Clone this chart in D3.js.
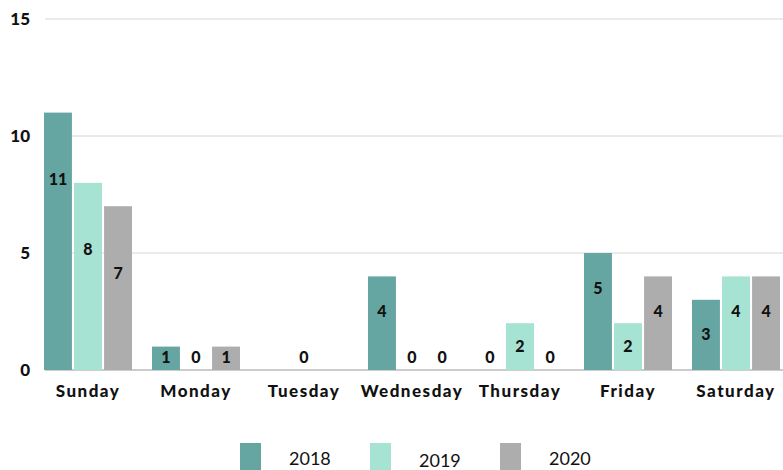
<!DOCTYPE html>
<html><head><meta charset="utf-8">
<script src="https://cdn.jsdelivr.net/npm/d3@7"></script>
<style>body{margin:0;background:#fff;}svg{display:block;}</style>
</head><body><svg id="c" width="783" height="470"></svg>
<script>
const categories = ["Sunday","Monday","Tuesday","Wednesday","Thursday","Friday","Saturday"];
const seriesNames = ["2018","2019","2020"];
const values2018 = [11,1,null,4,0,5,3];
const values2019 = [8,0,0,0,2,2,4];
const values2020 = [7,1,null,0,0,4,4];
const yTicks = [0,5,10,15];
const colors = ["#66a6a2","#a6e3d3","#adadad"];

const allSeries = [values2018, values2019, values2020];
const svg = d3.select("#c");
const font = "Lato, 'Open Sans', sans-serif";
const x = d3.scaleBand().domain(categories).range([34,790]).paddingInner(0.185).paddingOuter(0.0925);
const x1 = d3.scaleBand().domain(seriesNames).range([0,x.bandwidth()]).paddingInner(0.07);
const y = d3.scaleLinear().domain([0,15]).range([370,19]);

svg.append("g").selectAll("line").data(yTicks).join("line")
  .attr("x1",45).attr("x2",783).attr("y1",d=>y(d)).attr("y2",d=>y(d))
  .attr("stroke",d=>d===0?"#999":"#d6d6d6").attr("stroke-width",1);
svg.append("g").selectAll("text").data(yTicks).join("text")
  .attr("x",30).attr("y",d=>y(d)).attr("dy","0.35em").attr("text-anchor","end")
  .attr("font-family",font).attr("font-weight",900).attr("font-size",17).attr("fill","#111")
  .text(d=>d);

const flat = [];
allSeries.forEach((arr,si)=>arr.forEach((v,ci)=>{ if(v!==null) flat.push({s:seriesNames[si],si,c:categories[ci],v}); }));

svg.append("g").selectAll("rect").data(flat.filter(d=>d.v>0)).join("rect")
  .attr("x",d=>x(d.c)+x1(d.s)).attr("width",x1.bandwidth())
  .attr("y",d=>y(d.v)).attr("height",d=>y(0)-y(d.v)).attr("fill",d=>colors[d.si]);

svg.append("g").selectAll("text").data(flat).join("text")
  .attr("x",d=>x(d.c)+x1(d.s)+x1.bandwidth()/2)
  .attr("y",d=>{const h=y(0)-y(d.v); if(h<30) return y(0)-13; const off=Math.min(h/2, h>150?67:35); return y(d.v)+off;})
  .attr("dy","0.35em").attr("text-anchor","middle")
  .attr("font-family",font).attr("font-weight",900).attr("font-size",16).attr("fill","#111")
  .text(d=>d.v);

svg.append("g").selectAll("text").data(categories).join("text")
  .attr("x",d=>x(d)+x.bandwidth()/2).attr("y",391).attr("dy","0.35em").attr("text-anchor","middle")
  .attr("font-family",font).attr("font-weight",900).attr("font-size",17).attr("letter-spacing",1.5).attr("fill","#111")
  .text(d=>d);

const lx = [240,370,500];
const lg = svg.append("g").selectAll("g").data(seriesNames).join("g");
lg.append("rect").attr("x",(d,i)=>lx[i]).attr("y",443).attr("width",21).attr("height",27).attr("fill",(d,i)=>colors[i]);
lg.append("text").attr("x",(d,i)=>lx[i]+49).attr("y",(d,i)=>i===1?467:465)
  .attr("font-family",font).attr("font-size",18).attr("fill","#111").text(d=>d);
</script></body></html>
